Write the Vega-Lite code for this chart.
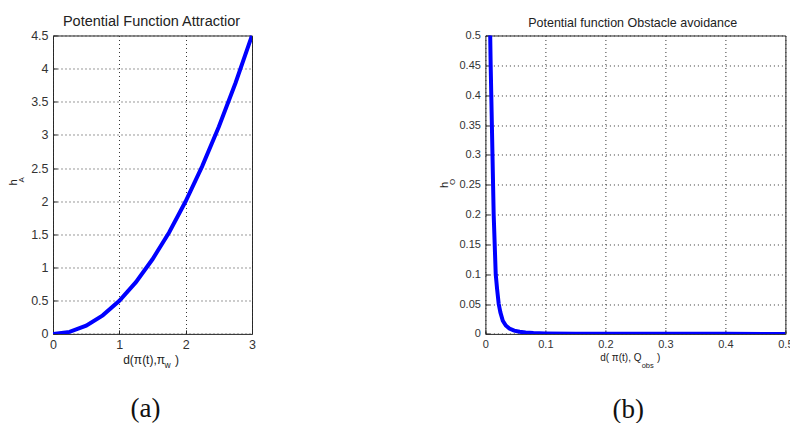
{
  "$schema": "https://vega.github.io/schema/vega-lite/v6.json",
  "padding": {"left": 7, "top": 12.5, "right": 0, "bottom": 0},
  "background": "white",
  "bounds": "flush",
  "spacing": 233.4,
  "config": {
    "view": {"stroke": "#262626", "strokeWidth": 1},
    "axis": {
      "domain": false,
      "grid": true,
      "gridDash": [1, 3],
      "gridColor": "#333333",
      "gridOpacity": 1,
      "labelFont": "Liberation Sans",
      "labelColor": "#333333",
      "labelFlush": false,
      "labelOverlap": false,
      "tickColor": "#262626",
      "tickSize": -4,
      "labelPadding": 9,
      "titleFont": "Liberation Sans",
      "titleFontWeight": "normal",
      "titleColor": "#222222",
      "titlePadding": 0
    }
  },
  "hconcat": [
    {
      "width": 199,
      "height": 298.4,
      "data": {"values": [
        {"d": 0, "h": 0}, {"d": 0.25, "h": 0.03}, {"d": 0.5, "h": 0.125}, {"d": 0.75, "h": 0.28},
        {"d": 1, "h": 0.5}, {"d": 1.25, "h": 0.78}, {"d": 1.5, "h": 1.125}, {"d": 1.75, "h": 1.53},
        {"d": 2, "h": 2}, {"d": 2.25, "h": 2.53}, {"d": 2.5, "h": 3.125}, {"d": 2.75, "h": 3.78},
        {"d": 3, "h": 4.5}
      ]},
      "layer": [
        {
          "mark": {"type": "line", "color": "#0000ff", "strokeWidth": 4, "clip": true},
          "encoding": {
            "x": {"field": "d", "type": "quantitative", "scale": {"domain": [0, 3], "nice": false, "zero": false},
              "axis": {"orient": "bottom", "values": [0, 1, 2, 3], "format": "~g", "labelFontSize": 12.5,
                "title": "d(π(t),π", "titleFontSize": 12, "titleX": 69.7, "titleY": 29.5, "titleAlign": "left", "titleBaseline": "alphabetic"}},
            "y": {"field": "h", "type": "quantitative", "scale": {"domain": [0, 4.5], "nice": false},
              "axis": {"orient": "left", "values": [0, 0.5, 1, 1.5, 2, 2.5, 3, 3.5, 4, 4.5], "format": "~g", "labelFontSize": 12.5,
                "title": "h", "titleFontSize": 11, "titleAngle": 270, "titleX": -36.5, "titleY": 149.5, "titleAlign": "left", "titleBaseline": "alphabetic"}}
          }
        },
        {
          "mark": {"type": "line", "opacity": 0, "clip": true},
          "encoding": {
            "x": {"field": "d", "type": "quantitative", "scale": {"domain": [0, 3], "nice": false, "zero": false},
              "axis": {"orient": "bottom", "labels": false, "ticks": false, "grid": false, "domain": false,
                "title": "w", "titleFontSize": 8.5, "titleX": 111, "titleY": 33.5, "titleAlign": "left", "titleBaseline": "alphabetic"}},
            "y": {"field": "h", "type": "quantitative", "scale": {"domain": [0, 4.5], "nice": false},
              "axis": {"orient": "left", "labels": false, "ticks": false, "grid": false, "domain": false,
                "title": "A", "titleFontSize": 8, "titleAngle": 270, "titleX": -29.5, "titleY": 146.5, "titleAlign": "left", "titleBaseline": "alphabetic"}}
          }
        },
        {
          "mark": {"type": "line", "opacity": 0, "clip": true},
          "encoding": {
            "x": {"field": "d", "type": "quantitative", "scale": {"domain": [0, 3], "nice": false, "zero": false},
              "axis": {"orient": "bottom", "labels": false, "ticks": false, "grid": false, "domain": false,
                "title": "(a)", "titleFont": "Liberation Serif", "titleFontSize": 27, "titleColor": "#111111", "titleX": 92, "titleY": 82.8, "titleAlign": "center", "titleBaseline": "alphabetic"}},
            "y": {"field": "h", "type": "quantitative", "scale": {"domain": [0, 4.5], "nice": false}, "axis": null}
          }
        },
        {
          "mark": {"type": "line", "opacity": 0, "clip": true},
          "encoding": {
            "x": {"field": "d", "type": "quantitative", "scale": {"domain": [0, 3], "nice": false, "zero": false},
              "axis": {"orient": "top", "labels": false, "ticks": false, "grid": false, "domain": false,
                "title": "Potential Function Attractior", "titleFontSize": 14.5, "titleX": 98, "titleY": -9.8, "titleAlign": "center", "titleBaseline": "alphabetic"}},
            "y": {"field": "h", "type": "quantitative", "scale": {"domain": [0, 4.5], "nice": false}, "axis": null}
          }
        },
        {
          "mark": {"type": "line", "opacity": 0, "clip": true},
          "encoding": {
            "x": {"field": "d", "type": "quantitative", "scale": {"domain": [0, 3], "nice": false, "zero": false},
              "axis": {"orient": "bottom", "labels": false, "ticks": false, "grid": false, "domain": false,
                "title": ")", "titleFontSize": 12, "titleX": 121.5, "titleY": 29.5, "titleAlign": "left", "titleBaseline": "alphabetic"}},
            "y": {"field": "h", "type": "quantitative", "scale": {"domain": [0, 4.5], "nice": false}, "axis": null}
          }
        }
      ],
      "resolve": {"axis": {"x": "independent", "y": "independent"}}
    },
    {
      "width": 300,
      "height": 298.4,
      "data": {"values": [
        {"d": 0.0072, "h": 0.56}, {"d": 0.008, "h": 0.5}, {"d": 0.0088, "h": 0.45}, {"d": 0.0098, "h": 0.4},
        {"d": 0.0108, "h": 0.35}, {"d": 0.0118, "h": 0.3}, {"d": 0.0128, "h": 0.25}, {"d": 0.0138, "h": 0.2},
        {"d": 0.0155, "h": 0.15}, {"d": 0.0172, "h": 0.1}, {"d": 0.0195, "h": 0.075}, {"d": 0.0222, "h": 0.05},
        {"d": 0.025, "h": 0.036}, {"d": 0.029, "h": 0.022}, {"d": 0.034, "h": 0.014}, {"d": 0.04, "h": 0.009},
        {"d": 0.048, "h": 0.0055}, {"d": 0.057, "h": 0.0035}, {"d": 0.067, "h": 0.0022}, {"d": 0.08, "h": 0.0013},
        {"d": 0.1, "h": 0.0007}, {"d": 0.15, "h": 0.0003}, {"d": 0.2, "h": 0.00015}, {"d": 0.3, "h": 0.00007},
        {"d": 0.4, "h": 0.00004}, {"d": 0.5, "h": 0.00002}
      ]},
      "layer": [
        {
          "mark": {"type": "line", "color": "#0000ff", "strokeWidth": 4, "clip": true},
          "encoding": {
            "x": {"field": "d", "type": "quantitative", "scale": {"domain": [0, 0.5], "nice": false, "zero": false},
              "axis": {"orient": "bottom", "values": [0, 0.1, 0.2, 0.3, 0.4, 0.5], "format": "~g", "labelFontSize": 11,
                "title": "d( π(t), Q", "titleFontSize": 10, "titleX": 114.3, "titleY": 26.3, "titleAlign": "left", "titleBaseline": "alphabetic"}},
            "y": {"field": "h", "type": "quantitative", "scale": {"domain": [0, 0.5], "nice": false},
              "axis": {"orient": "left", "values": [0, 0.05, 0.1, 0.15, 0.2, 0.25, 0.3, 0.35, 0.4, 0.45, 0.5], "format": "~g", "labelFontSize": 11,
                "title": "h", "titleFontSize": 11, "titleAngle": 270, "titleX": -38.2, "titleY": 152, "titleAlign": "left", "titleBaseline": "alphabetic"}}
          }
        },
        {
          "mark": {"type": "line", "opacity": 0, "clip": true},
          "encoding": {
            "x": {"field": "d", "type": "quantitative", "scale": {"domain": [0, 0.5], "nice": false, "zero": false},
              "axis": {"orient": "bottom", "labels": false, "ticks": false, "grid": false, "domain": false,
                "title": "obs", "titleFontSize": 7.5, "titleX": 155.8, "titleY": 34, "titleAlign": "left", "titleBaseline": "alphabetic"}},
            "y": {"field": "h", "type": "quantitative", "scale": {"domain": [0, 0.5], "nice": false},
              "axis": {"orient": "left", "labels": false, "ticks": false, "grid": false, "domain": false,
                "title": "O", "titleFontSize": 8, "titleAngle": 270, "titleX": -31.2, "titleY": 149, "titleAlign": "left", "titleBaseline": "alphabetic"}}
          }
        },
        {
          "mark": {"type": "line", "opacity": 0, "clip": true},
          "encoding": {
            "x": {"field": "d", "type": "quantitative", "scale": {"domain": [0, 0.5], "nice": false, "zero": false},
              "axis": {"orient": "bottom", "labels": false, "ticks": false, "grid": false, "domain": false,
                "title": "(b)", "titleFont": "Liberation Serif", "titleFontSize": 27, "titleColor": "#111111", "titleX": 142.3, "titleY": 83.8, "titleAlign": "center", "titleBaseline": "alphabetic"}},
            "y": {"field": "h", "type": "quantitative", "scale": {"domain": [0, 0.5], "nice": false}, "axis": null}
          }
        },
        {
          "mark": {"type": "line", "opacity": 0, "clip": true},
          "encoding": {
            "x": {"field": "d", "type": "quantitative", "scale": {"domain": [0, 0.5], "nice": false, "zero": false},
              "axis": {"orient": "top", "labels": false, "ticks": false, "grid": false, "domain": false,
                "title": "Potential function Obstacle avoidance", "titleFontSize": 12.5, "titleX": 146.8, "titleY": -8.6, "titleAlign": "center", "titleBaseline": "alphabetic"}},
            "y": {"field": "h", "type": "quantitative", "scale": {"domain": [0, 0.5], "nice": false}, "axis": null}
          }
        },
        {
          "mark": {"type": "line", "opacity": 0, "clip": true},
          "encoding": {
            "x": {"field": "d", "type": "quantitative", "scale": {"domain": [0, 0.5], "nice": false, "zero": false},
              "axis": {"orient": "bottom", "labels": false, "ticks": false, "grid": false, "domain": false,
                "title": ")", "titleFontSize": 10, "titleX": 171, "titleY": 26.3, "titleAlign": "left", "titleBaseline": "alphabetic"}},
            "y": {"field": "h", "type": "quantitative", "scale": {"domain": [0, 0.5], "nice": false}, "axis": null}
          }
        }
      ],
      "resolve": {"axis": {"x": "independent", "y": "independent"}}
    }
  ]
}
